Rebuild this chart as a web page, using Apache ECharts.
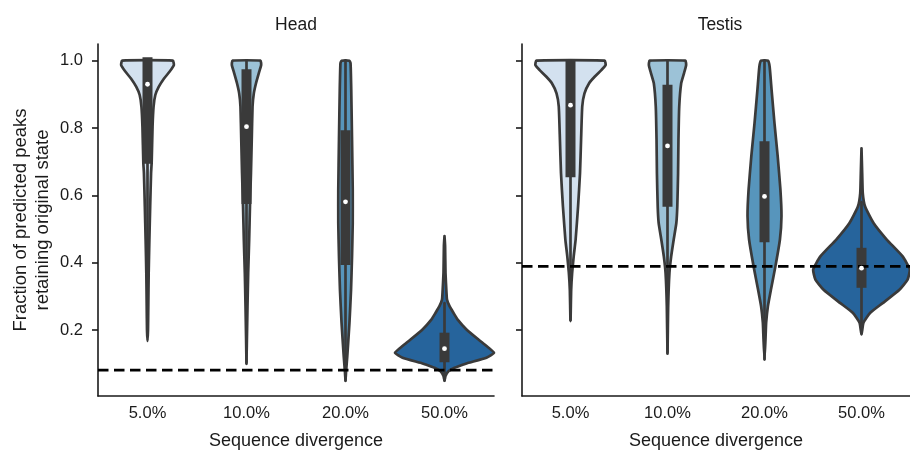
<!DOCTYPE html>
<html>
<head>
<meta charset="utf-8">
<script src="https://cdn.jsdelivr.net/npm/echarts@6/dist/echarts.min.js"></script>
<style>html,body{margin:0;padding:0;background:#fff}#c{width:910px;height:455px}</style>
</head>
<body>
<div id="c"></div>
<script>
// ---- data ----
const categories = ['5.0%', '10.0%', '20.0%', '50.0%'];
const panelTitles = ['Head', 'Testis'];
const xAxisTitle = 'Sequence divergence';
const yAxisTitle = ['Fraction of predicted peaks', 'retaining original state'];
const yTickValues = [0.2, 0.4, 0.6, 0.8, 1.0];

// violin outlines: [value, half width as a fraction of the category band]
const head5 = [[1.0,0.256],[0.987,0.266],[0.967,0.222],[0.947,0.167],[0.922,0.113],[0.898,0.079],[0.863,0.061],[0.804,0.051],[0.696,0.042],[0.666,0.036],[0.567,0.027],[0.469,0.019],[0.370,0.012],[0.271,0.008],[0.200,0.005],[0.168,0]];
const head10 = [[1.0,0.141],[0.987,0.148],[0.9625,0.124],[0.933,0.096],[0.903,0.074],[0.864,0.061],[0.765,0.053],[0.666,0.045],[0.567,0.035],[0.469,0.027],[0.370,0.017],[0.271,0.010],[0.172,0.004],[0.103,0]];
const head20 = [[1.0,0.040],[0.992,0.051],[0.913,0.058],[0.765,0.066],[0.617,0.073],[0.518,0.073],[0.419,0.066],[0.320,0.056],[0.222,0.040],[0.123,0.018],[0.074,0.005],[0.049,0]];
const head50 = [[0.479,0],[0.450,0.006],[0.370,0.010],[0.311,0.020],[0.291,0.025],[0.271,0.051],[0.251,0.091],[0.232,0.131],[0.202,0.222],[0.172,0.343],[0.153,0.424],[0.133,0.500],[0.118,0.424],[0.103,0.242],[0.098,0.192],[0.088,0.101],[0.078,0.040],[0.064,0.010],[0.049,0]];
const testis5 = [[1.0,0.352],[0.987,0.362],[0.972,0.318],[0.953,0.251],[0.933,0.192],[0.903,0.144],[0.864,0.121],[0.765,0.109],[0.666,0.098],[0.567,0.078],[0.469,0.053],[0.419,0.033],[0.370,0.017],[0.320,0.007],[0.227,0]];
const testis10 = [[1.0,0.184],[0.987,0.192],[0.9625,0.170],[0.933,0.141],[0.864,0.121],[0.765,0.113],[0.666,0.109],[0.567,0.101],[0.518,0.091],[0.469,0.064],[0.419,0.038],[0.370,0.020],[0.271,0.007],[0.133,0]];
const testis20 = [[1.0,0.035],[0.982,0.053],[0.913,0.073],[0.814,0.103],[0.716,0.136],[0.617,0.164],[0.538,0.175],[0.469,0.159],[0.390,0.113],[0.320,0.066],[0.271,0.035],[0.222,0.017],[0.172,0.010],[0.113,0]];
const testis50 = [[0.740,0],[0.666,0.007],[0.607,0.013],[0.567,0.037],[0.518,0.124],[0.469,0.260],[0.419,0.424],[0.380,0.498],[0.350,0.475],[0.320,0.391],[0.281,0.222],[0.251,0.088],[0.222,0.020],[0.187,0]];

// box stats: [whisker low, q1, median, q3, whisker high]
const headBoxes = [[0.25,0.704,0.930,1.0,1.0],[0.10,0.585,0.804,0.964,1.0],[0.05,0.404,0.581,0.783,1.0],[0.05,0.115,0.145,0.182,0.28]];
const testisBoxes = [[0.23,0.664,0.868,0.99,1.0],[0.13,0.577,0.747,0.918,1.0],[0.113,0.471,0.597,0.750,1.0],[0.19,0.336,0.384,0.434,0.58]];

// dashed reference lines
const baselineValues = [0.081, 0.389];

// ---- styling ----
const palette = ['#d3e1ef', '#9cc2d7', '#5795bc', '#26649c'];
const EDGE = '#3a3a3a';
const INK = '#1a1a1a';
const FONT = '"Liberation Sans", Arial, sans-serif';
const headViolins = [head5, head10, head20, head50];
const testisViolins = [testis5, testis10, testis20, testis50];

function dedupe(pts) {
  const out = [];
  pts.forEach(p => {
    const l = out[out.length - 1];
    if (!l || Math.abs(l[0] - p[0]) > 0.01 || Math.abs(l[1] - p[1]) > 0.01) out.push(p);
  });
  return out;
}

function violinSeries(gi, profiles, boxes) {
  return {
    type: 'custom', xAxisIndex: gi, yAxisIndex: gi, z: 2, silent: true,
    data: categories.map((c, i) => [i, boxes[i][2]]),
    encode: { x: 0, y: 1 },
    renderItem(params, api) {
      const i = params.dataIndex;
      const bw = api.size([1, 0])[0];
      const cx = api.coord([i, 0])[0];
      const Y = v => api.coord([i, v])[1];
      const prof = profiles[i];
      const right = prof.map(([v, w]) => [cx + w * bw, Y(v)]);
      const left = prof.slice().reverse().map(([v, w]) => [cx - w * bw, Y(v)]);
      const pts = dedupe(right.concat(left));
      const b = boxes[i];
      return {
        type: 'group',
        children: [
          { type: 'polygon', shape: { points: pts, smooth: 0.15 },
            style: { fill: palette[i], stroke: EDGE, lineWidth: 2.7, lineJoin: 'round' } },
          { type: 'line', shape: { x1: cx, y1: Y(b[0]), x2: cx, y2: Y(b[4]) },
            style: { stroke: EDGE, lineWidth: 2.7, lineCap: 'round' } },
          { type: 'rect', shape: { x: cx - 5, y: Y(b[3]) - 3.5, width: 10, height: Y(b[1]) - Y(b[3]) + 7 },
            style: { fill: EDGE } }
        ]
      };
    }
  };
}

function medianSeries(gi, boxes) {
  return {
    type: 'custom', xAxisIndex: gi, yAxisIndex: gi, z: 5, silent: true,
    data: categories.map((c, i) => [i, boxes[i][2]]),
    encode: { x: 0, y: 1 },
    renderItem(params, api) {
      const p = api.coord([api.value(0), api.value(1)]);
      return { type: 'circle', shape: { cx: p[0], cy: p[1], r: 2.4 }, style: { fill: '#ffffff' } };
    }
  };
}

function baselineSeries(gi, value) {
  return {
    type: 'custom', xAxisIndex: gi, yAxisIndex: gi, z: 4, silent: true,
    data: [[0, value]],
    encode: { x: 0, y: 1 },
    renderItem(params, api) {
      const cs = params.coordSys;
      const y = api.coord([0, api.value(1)])[1];
      return { type: 'line', shape: { x1: cs.x, y1: y, x2: cs.x + cs.width, y2: y },
        style: { stroke: '#000000', lineWidth: 2.7, lineDash: [10.5, 5.5] } };
    }
  };
}

const grids = [
  { left: 98, width: 396, top: 44, height: 352.7 },
  { left: 522, width: 396, top: 44, height: 352.7 }
];

const xAxes = grids.map((g, gi) => ({
  gridIndex: gi, type: 'category', data: categories,
  axisLine: { lineStyle: { color: INK, width: 1.6 } },
  axisTick: { alignWithLabel: true, length: 6, lineStyle: { color: INK, width: 1.6 } },
  axisLabel: { fontSize: 16.5, color: INK, fontFamily: FONT, margin: 9 },
  name: xAxisTitle, nameLocation: 'middle', nameGap: 36,
  nameTextStyle: { fontSize: 18, color: INK, fontFamily: FONT }
}));

const yAxes = grids.map((g, gi) => ({
  gridIndex: gi, type: 'value', min: 0.0044, max: 1.0495,
  axisLine: { show: true, lineStyle: { color: INK, width: 1.6 } },
  axisTick: { show: true, length: 6, customValues: yTickValues, lineStyle: { color: INK, width: 1.6 } },
  axisLabel: { show: gi === 0, customValues: yTickValues, formatter: v => v.toFixed(1),
    fontSize: 16.5, color: INK, fontFamily: FONT, margin: 15 },
  splitLine: { show: false }
}));

const chart = echarts.init(document.getElementById('c'), null, { renderer: 'canvas' });
chart.setOption({
  animation: false,
  backgroundColor: '#ffffff',
  grid: grids,
  xAxis: xAxes,
  yAxis: yAxes,
  graphic: [
    { type: 'text', x: 296, y: 25, style: { text: panelTitles[0], font: '17.5px ' + FONT, fill: INK, textAlign: 'center', textVerticalAlign: 'middle' } },
    { type: 'text', x: 720, y: 25, style: { text: panelTitles[1], font: '17.5px ' + FONT, fill: INK, textAlign: 'center', textVerticalAlign: 'middle' } },
    { type: 'text', x: 32, y: 220, rotation: Math.PI / 2,
      style: { text: yAxisTitle.join('\n'), font: '18.5px ' + FONT, fill: INK, textAlign: 'center', textVerticalAlign: 'middle', lineHeight: 21.5 } }
  ],
  series: [
    violinSeries(0, headViolins, headBoxes),
    violinSeries(1, testisViolins, testisBoxes),
    baselineSeries(0, baselineValues[0]),
    baselineSeries(1, baselineValues[1]),
    medianSeries(0, headBoxes),
    medianSeries(1, testisBoxes)
  ]
});
</script>
</body>
</html>
